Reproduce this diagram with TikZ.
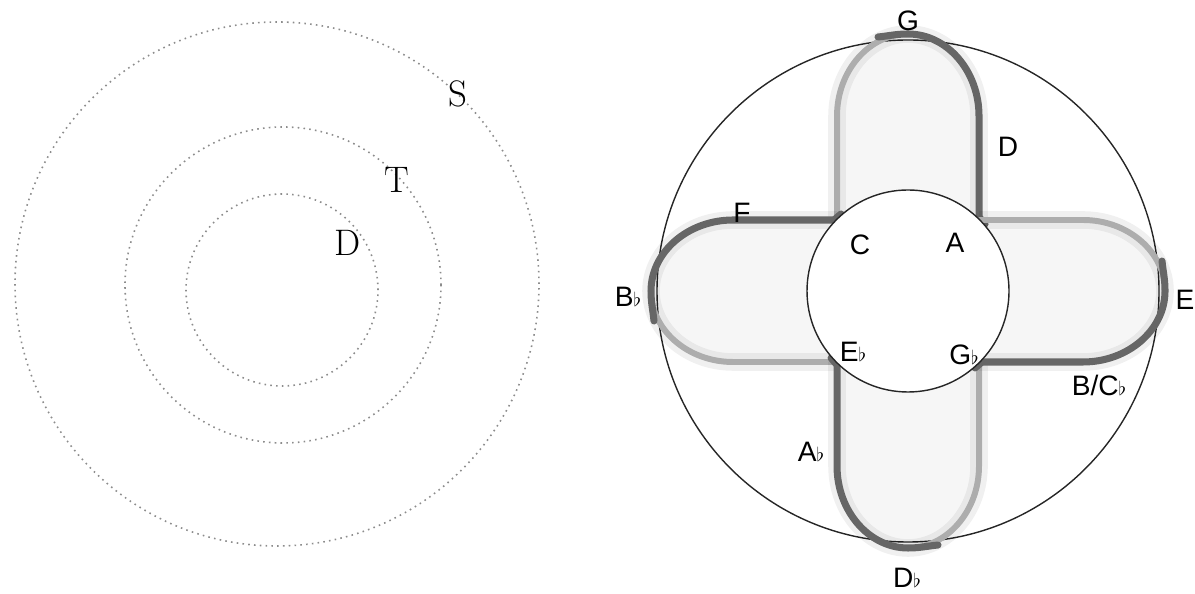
\documentclass[tikz,border=0pt]{standalone}
\usepackage{fontspec}
\usepackage{amssymb}
\usepackage{tikz}
\usetikzlibrary{positioning}
\newfontfamily\notefont{Liberation Sans}
\newcommand{\fl}{{\fontsize{11}{11}\selectfont$\flat$}}

\begin{document}
\begin{tikzpicture}[
    x=0.02cm, y=0.02cm,
    ring/.style={draw=black!45, line width=0.9pt, dash pattern=on 0.9pt off 2.4pt},
    rim/.style={draw=black!85, line width=0.8pt},
    petalglow/.style={draw=black, line width=10pt, draw opacity=0.06, fill=black, fill opacity=0.035, line join=round},
    petallight/.style={draw=black!32, line width=3.4pt, line cap=round},
    petaldark/.style={draw=black!60, line width=4pt, line cap=round, line join=round},
    serifnote/.style={font=\fontsize{21}{25}\selectfont, inner sep=0pt},
    note/.style={font=\notefont\fontsize{16}{19}\selectfont, inner sep=0pt}
]
\useasboundingbox (0,0) rectangle (1195,594);

% left: three dotted rings
\draw[ring] (277,310) circle (262);
\draw[ring] (283,309) circle (158);
\draw[ring] (282,304) circle (96);
\node[serifnote] (ringS) at (458,500) {S};
\node[serifnote] (ringT) at (397,414) {T};
\node[serifnote] (ringD) at (348,351) {D};

% right: outer rim and four petals
\draw[rim] (908,303) circle (251);
\foreach \ang in {0,90,180,270}{
  \begin{scope}[shift={(908,303)}, rotate=\ang]
    \draw[petalglow] (-71,71) -- (-71,175) .. controls (-71,220) and (-39,257) .. (0,257)
      .. controls (39,257) and (71,220) .. (71,175) -- (71,71);
    \draw[petallight] (-71,71) -- (-71,175) .. controls (-71,220) and (-39,257) .. (0,257);
    \draw[petaldark] (-30,254) to[out=6,in=180] (0,257)
      .. controls (39,257) and (71,220) .. (71,175) -- (71,74) -- (77,67);
  \end{scope}
}
\draw[rim, fill=white] (908,303) circle (101);

% note names
\node[note] (nG) at (908,573) {G};
\node[note] (nD) at (1008,447) {D};
\node[note] (nF) at (742,381) {F};
\node[note] (nC) at (860,349) {C};
\node[note] (nA) at (955,351) {A};
\node[note] (nBb) at (628,297) {B\fl};
\node[note] (nE) at (1185,294) {E};
\node[note] (nEb) at (853,242) {E\fl};
\node[note] (nGb) at (964,239) {G\fl};
\node[note] (nBCb) at (1099,209) {B/C\fl};
\node[note] (nAb) at (811,142) {A\fl};
\node[note] (nDb) at (907,16) {D\fl};
\end{tikzpicture}
\end{document}
